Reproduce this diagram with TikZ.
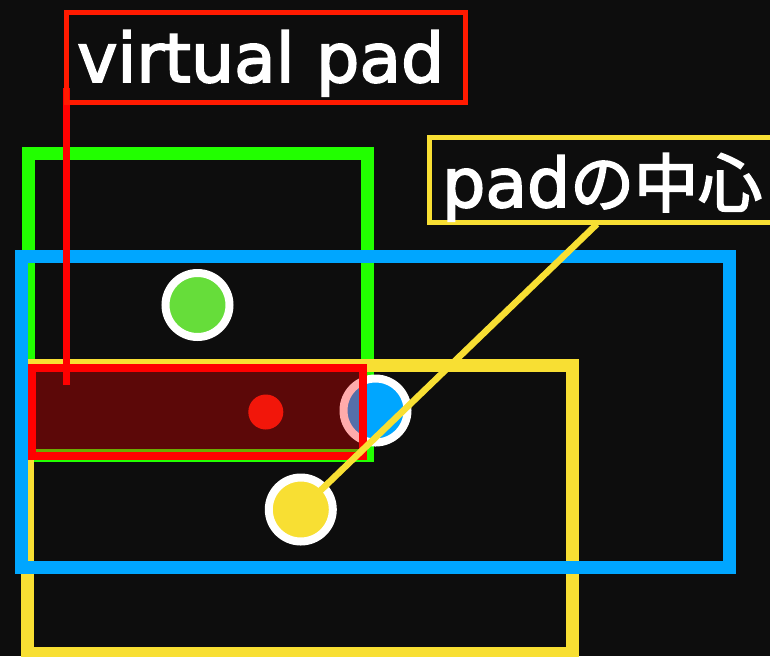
\documentclass[tikz,border=0pt]{standalone}
\usepackage{fontspec}
\setmainfont{DejaVu Sans}
\newfontfamily\jpfont{Noto Sans CJK JP}
% heavier label text: fill and stroke the glyph outlines in white
\newcommand{\heavytext}[1]{\special{pdf:literal direct 2 Tr 1.8 w 1 1 1 RG}#1\special{pdf:literal direct 0 Tr}}

\definecolor{bgc}{HTML}{0D0D0D}
\definecolor{grn}{HTML}{22FF00}
\definecolor{blu}{HTML}{00A6FF}
\definecolor{ylw}{HTML}{F8DF33}
\definecolor{padred}{HTML}{FF0000}
\definecolor{lblred}{HTML}{FF1A00}
\definecolor{grndot}{HTML}{66DD3A}
\definecolor{centerdot}{HTML}{EC2210}

\begin{document}
\begin{tikzpicture}[x=1pt,y=-1pt,
  frame/.style={line width=13pt},
  dot/.style={circle, draw=white, line width=8pt, minimum size=64pt, inner sep=0pt},
  lbl/.style={text=white, inner sep=0pt, font=\fontsize{68pt}{72pt}\selectfont},
  lblbox/.style={line width=5pt},
]
\useasboundingbox (0,0) rectangle (770,656);
\fill[bgc] (0,0) rectangle (770,656);
\clip (0,0) rectangle (770,656);

% area frames
\draw[frame, grn] (28,153.3) rectangle (367,455);
\draw[frame, ylw] (27.7,365) rectangle (572.7,653.5);
\draw[frame, blu] (21.7,256.7) rectangle (729,567.2);

% touch points
\node[dot, fill=grndot] (gdot) at (197.5,305) {};
\node[dot, fill=ylw] (ydot) at (300.8,509.5) {};
\node[dot, fill=blu] (bdot) at (375.5,410.5) {};
\node[circle, fill=centerdot, minimum size=35pt, inner sep=0pt] (cdot) at (265.8,412) {};

% virtual pad area
\draw[padred, line width=8pt, fill=padred, fill opacity=0.33] (32,367.5) rectangle (362.5,456);

% label: pad centre
\coordinate (ytip) at (597,224);
\draw[ylw, line width=6.5pt] (ydot.center) -- (ytip);
\draw[lblbox, ylw] (429,137) rectangle (800,222.5);
\node[lbl, anchor=base west] (ctext) at (442,207)
  {\heavytext{pad{\jpfont\fontsize{64pt}{72pt}\selectfont の中心}}};

% label: virtual pad
\coordinate (vtop) at (66.5,88);
\coordinate (vbot) at (66.5,385);
\draw[padred, line width=7pt] (vtop) -- (vbot);
\draw[lblbox, lblred] (66.5,12.5) rectangle (465.5,102.5);
\node[lbl, anchor=base west] (vtext) at (77,82) {\heavytext{virtual pad}};
\end{tikzpicture}
\end{document}
